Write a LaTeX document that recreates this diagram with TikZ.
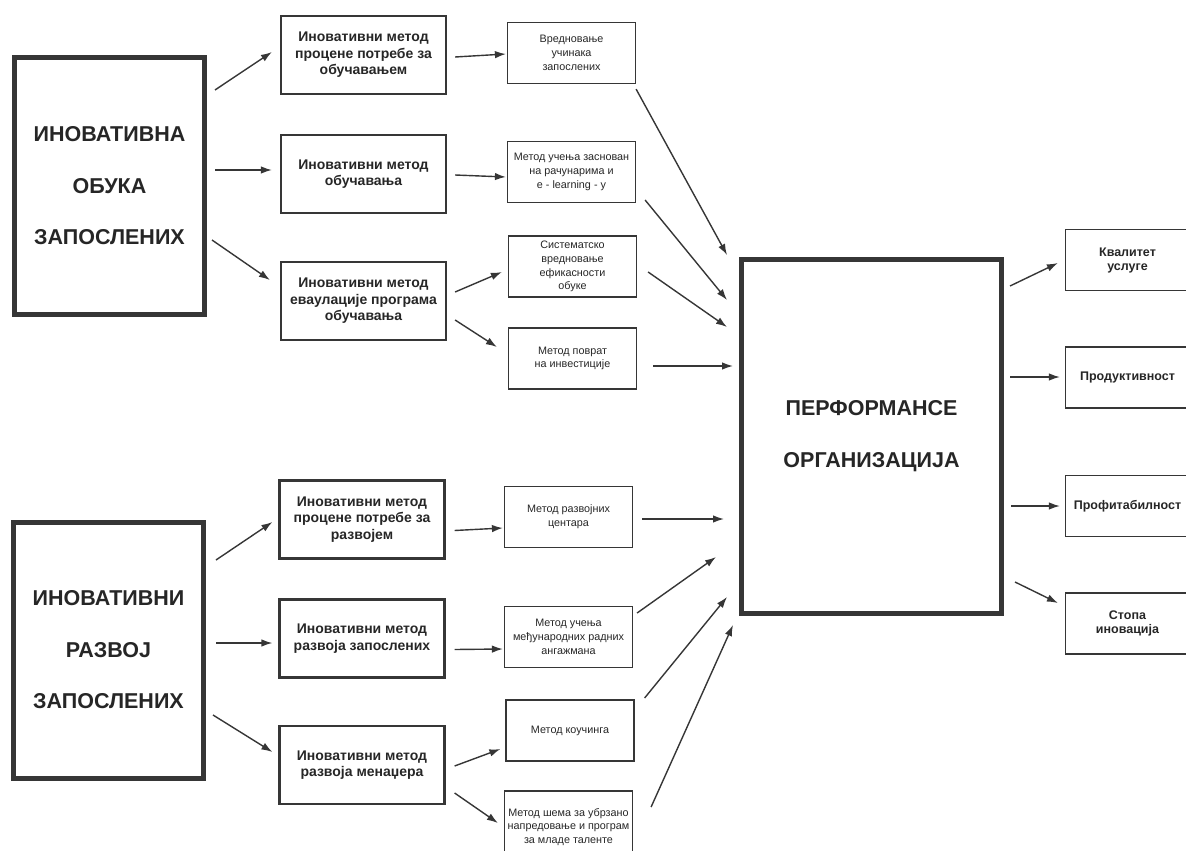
\documentclass[tikz,border=0pt]{standalone}
\usepackage{fontspec}
\setmainfont{Liberation Sans}
\usetikzlibrary{arrows.meta,calc}

\definecolor{ink}{HTML}{262626}
\definecolor{edge}{HTML}{363636}

\begin{document}
\begin{tikzpicture}[x=1pt,y=-1pt]
\useasboundingbox (0,0) rectangle (1186,851);
\clip (0,0) rectangle (1186,851);

% The two main blocks on the left
\tikzstyle{every node}=[draw=edge,line width=5pt,shape=rectangle,align=center,text=ink,minimum width=190pt,minimum height=256pt,font=\bfseries\fontsize{21.5}{51.5}\selectfont];
\node (a1) at (109.5,186) {ИНОВАТИВНА\\ОБУКА\\ЗАПОСЛЕНИХ};
\node (a2) at (108.5,650) {ИНОВАТИВНИ\\РАЗВОЈ\\ЗАПОСЛЕНИХ};

% The methods
\tikzstyle{every node}=[draw=edge,line width=2.2pt,shape=rectangle,align=center,text=ink,minimum width=165pt,minimum height=78pt,font=\bfseries\fontsize{14}{16.5}\selectfont];
\foreach \x/\y/\t [count=\idx] in {363.5/55/{Иновативни метод\\процене потребе за\\обучавањем},
                                   363.5/174/{Иновативни метод\\обучавања},
                                   363.5/301/{Иновативни метод\\еваулације програма\\обучавања},
                                   362/519.5/{Иновативни метод\\процене потребе за\\развојем},
                                   362/638.5/{Иновативни метод\\развоја запослених},
                                   362/765/{Иновативни метод\\развоја менаџера}}
  \node (m\idx) at (\x,\y) {\t};

% The techniques
\tikzstyle{every node}=[draw=edge,line width=1.2pt,shape=rectangle,align=center,text=ink,minimum width=128pt,minimum height=61pt,inner sep=2pt,font=\fontsize{10.8}{13.8}\selectfont];
\foreach \x/\y/\t [count=\idx] in {571.5/53/{Вредновање\\учинака\\запослених},
                                   571.5/172/{Метод учења заснован\\на рачунарима и\\e - learning - у},
                                   572.5/266.5/{Систематско\\вредновање\\ефикасности\\обуке},
                                   572.5/358.5/{Метод поврат\\на инвестиције},
                                   568.5/517/{Метод развојних\\центара},
                                   568.5/637/{Метод учења\\међународних радних\\ангажмана},
                                   570/730.5/{Метод коучинга}}
  \node (s\idx) at (\x,\y) {\t};
\node[minimum height=72pt] (s8) at (568.5,827) {Метод шема за убрзано\\напредовање и програм\\за младе таленте};

% Organisational performance
\tikzstyle{every node}=[draw=edge,line width=5pt,shape=rectangle,align=center,text=ink,minimum width=260pt,minimum height=354pt,font=\bfseries\fontsize{21.5}{52}\selectfont];
\node (p) at (871.5,436.5) {ПЕРФОРМАНСЕ\\ОРГАНИЗАЦИЈА};

% The results
\tikzstyle{every node}=[draw=edge,line width=1.2pt,shape=rectangle,align=center,text=ink,minimum width=124pt,minimum height=61pt,font=\bfseries\fontsize{12.5}{14}\selectfont];
\foreach \y/\t [count=\idx] in {260/{Квалитет\\услуге},
                                377.5/Продуктивност,
                                506/Профитабилност,
                                623.5/{Стопа\\иновација}}
  \node (r\idx) at (1127.5,\y) {\t};

% Links between the blocks
\tikzstyle{link}=[draw=edge,line width=1.4pt,-{Latex[length=11pt,width=7.5pt]}];
\foreach \s/\sa/\sx/\sy/\t/\ta/\tx/\ty in {a1/east/8/-96/m1/west/-8/-3,
                                           a1/east/8/-16/m2/west/-8/-4,
                                           a1/east/5/54/m3/west/-10/-21,
                                           a2/east/10/-90/m4/west/-6/2.5,
                                           a2/east/10/-7/m5/west/-6/4.5,
                                           a2/east/7/65/m6/west/-6/-13,
                                           m1/east/8/2/s1/west/-1/1,
                                           m2/east/8/1/s2/west/-1/5,
                                           m3/east/8/-9/s3/west/-6/5.5,
                                           m3/east/8/19/s4/west/-11/-11.5,
                                           m4/east/9/11/s5/west/-1/11,
                                           m5/east/9/11/s6/west/-1/12,
                                           m6/east/9/1/s7/west/-5/18.5,
                                           m6/east/9/28/s8/west/-6/-4,
                                           s1/south east/0/5/p/north west/-12/-2,
                                           s2/east/9/28/p/west/-12/-136.5,
                                           s3/east/11/5.5/p/west/-12/-109.5,
                                           s4/east/16/7.5/p/west/-6/-70.5,
                                           s5/east/9/2/p/west/-15/82.5,
                                           s6/east/4/-24/p/west/-23/120.5,
                                           s7/east/10/-32.5/p/west/-12/160.5,
                                           s8/east/18/-20/p/south west/-6/9,
                                           p/east/6/-150.5/r1/west/-7/3,
                                           p/east/6/-59.5/r2/west/-5/-0.5,
                                           p/east/7/69.5/r3/west/-5/0,
                                           p/east/11/145.5/r4/west/-7/-20.5}
  \draw[link] ($(\s.\sa)+(\sx,\sy)$) -- ($(\t.\ta)+(\tx,\ty)$);

\end{tikzpicture}
\end{document}
